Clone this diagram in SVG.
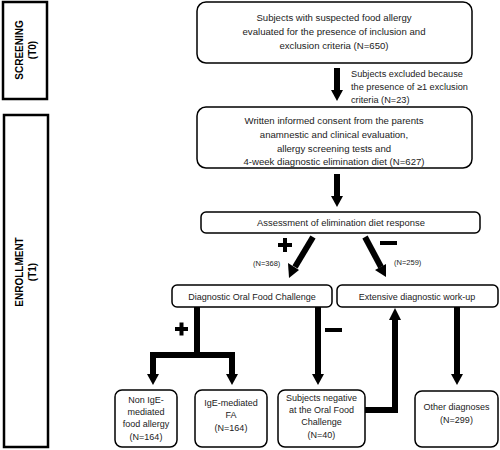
<svg xmlns="http://www.w3.org/2000/svg" width="500" height="450" viewBox="0 0 500 450">
<style>
.box{fill:#fff;stroke:#000;stroke-width:1.5}
.phase{fill:#fff;stroke:#000;stroke-width:2.5}
.t{font-family:"Liberation Sans",Arial,sans-serif;font-size:9px;fill:#222;text-anchor:middle}
.tl{font-size:9.6px}
.ph{font-family:"Liberation Sans",Arial,sans-serif;font-size:10px;font-weight:bold;fill:#000;text-anchor:middle}
.n{font-family:"Liberation Sans",Arial,sans-serif;font-size:7.5px;fill:#222}
.ex{font-size:9.2px}
.sh{stroke:#000;stroke-width:6;fill:none}
.hd{fill:#000}
.sg{fill:#000}
</style>
<g id="screening">
<rect class="phase" x="3" y="2" width="44" height="97"/>
<text class="ph" transform="translate(23,50) rotate(-90)">SCREENING</text>
<text class="ph" transform="translate(36,50) rotate(-90)">(T0)</text>
</g>
<g id="enrollment">
<rect class="phase" x="4" y="115" width="44" height="332"/>
<text class="ph" transform="translate(23,272) rotate(-90)">ENROLLMENT</text>
<text class="ph" transform="translate(36,272) rotate(-90)">(T1)</text>
</g>
<g id="n1">
<rect class="box" x="197" y="2" width="275" height="61" rx="9"/>
<text class="t tl" x="334" y="21">Subjects with suspected food allergy</text>
<text class="t tl" x="334" y="35">evaluated for the presence of inclusion and</text>
<text class="t tl" x="334" y="49">exclusion criteria (N=650)</text>
</g>
<g id="n2">
<rect class="box" x="197" y="107" width="275" height="61" rx="9"/>
<text class="t tl" x="334" y="124">Written informed consent from the parents</text>
<text class="t tl" x="334" y="138">anamnestic and clinical evaluation,</text>
<text class="t tl" x="334" y="152">allergy screening tests and</text>
<text class="t tl" x="334" y="165">4-week diagnostic elimination diet (N=627)</text>
</g>
<g id="n3">
<rect class="box" x="201" y="212" width="279" height="21" rx="5"/>
<text class="t" x="341" y="226" style="font-size:9.4px">Assessment of elimination diet response</text>
</g>
<g id="n4">
<rect class="box" x="172" y="285" width="160" height="22" rx="5"/>
<text class="t" x="252" y="299.5">Diagnostic Oral Food Challenge</text>
</g>
<g id="n5">
<rect class="box" x="337" y="285" width="161" height="22" rx="5"/>
<text class="t" x="417" y="299.5">Extensive diagnostic work-up</text>
</g>
<g id="n6">
<rect class="box" x="115" y="390" width="62" height="57" rx="7"/>
<text class="t" x="146" y="403">Non IgE-</text>
<text class="t" x="146" y="415">mediated</text>
<text class="t" x="146" y="427">food allergy</text>
<text class="t" x="146" y="440">(N=164)</text>
</g>
<g id="n7">
<rect class="box" x="195" y="390" width="72" height="57" rx="7"/>
<text class="t" x="231" y="406">IgE-mediated</text>
<text class="t" x="231" y="418">FA</text>
<text class="t" x="231" y="431">(N=164)</text>
</g>
<g id="n8">
<rect class="box" x="278" y="390" width="87" height="57" rx="7"/>
<text class="t" x="321.5" y="401">Subjects negative</text>
<text class="t" x="321.5" y="413">at the Oral Food</text>
<text class="t" x="321.5" y="425">Challenge</text>
<text class="t" x="321.5" y="438">(N=40)</text>
</g>
<g id="n9">
<rect class="box" x="415" y="391" width="83" height="56" rx="7"/>
<text class="t" x="456.5" y="410">Other diagnoses</text>
<text class="t" x="456.5" y="423">(N=299)</text>
</g>
<g id="connectors">
<line class="sh" x1="337" y1="68" x2="337" y2="92"/>
<polygon class="hd" points="331,90 343,90 337,101"/>
<text class="n ex" x="351" y="77">Subjects excluded because</text>
<text class="n ex" x="351" y="90">the presence of ≥1 exclusion</text>
<text class="n ex" x="351" y="103">criteria (N=23)</text>
<line class="sh" x1="337" y1="174" x2="337" y2="198"/>
<polygon class="hd" points="331,196 343,196 337,207"/>
<line class="sh" x1="313" y1="237" x2="295" y2="267"/>
<polygon class="hd" points="288,263 299,270 289,278"/>
<rect class="sg" x="278" y="243" width="14" height="4"/>
<rect class="sg" x="283" y="238" width="4" height="14"/>
<text class="n" x="253" y="266">(N=368)</text>
<line class="sh" x1="365" y1="237" x2="381" y2="267"/>
<polygon class="hd" points="375,270 386,264 386,277"/>
<rect class="sg" x="380" y="241" width="17" height="4"/>
<text class="n" x="394" y="265">(N=259)</text>
<line class="sh" x1="197" y1="307" x2="197" y2="355"/>
<line class="sh" x1="150" y1="355" x2="235" y2="355"/>
<line class="sh" x1="153" y1="353" x2="153" y2="376"/>
<polygon class="hd" points="147,374 159,374 153,385"/>
<line class="sh" x1="232" y1="353" x2="232" y2="376"/>
<polygon class="hd" points="226,374 238,374 232,385"/>
<rect class="sg" x="175" y="327" width="13" height="4"/>
<rect class="sg" x="179.5" y="322.5" width="4" height="13"/>
<line class="sh" x1="318" y1="307" x2="318" y2="376"/>
<polygon class="hd" points="312,374 324,374 318,385"/>
<rect class="sg" x="325" y="328" width="17" height="4"/>
<polyline class="sh" points="365,410 395,410 395,318"/>
<polygon class="hd" points="389,320 401,320 395,308"/>
<line class="sh" x1="457" y1="307" x2="457" y2="376"/>
<polygon class="hd" points="451,374 463,374 457,385"/>
</g>
</svg>
